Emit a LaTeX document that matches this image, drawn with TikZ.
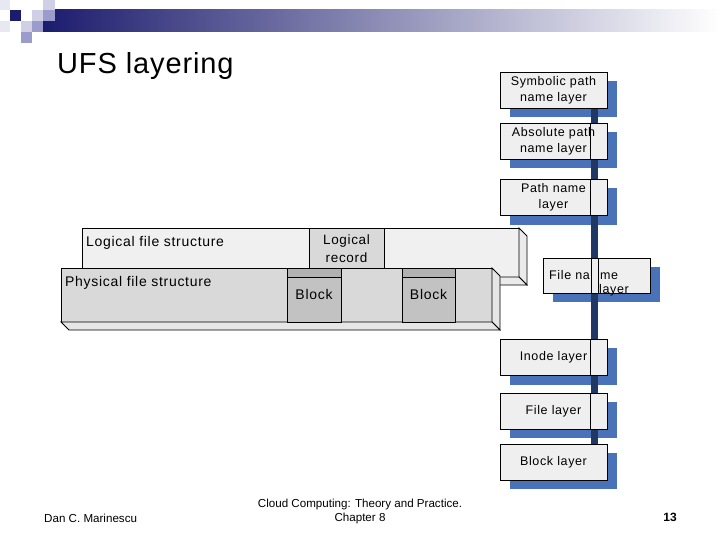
\documentclass[tikz,border=0pt]{standalone}
\usepackage{fontspec}
\setmainfont{Liberation Sans}
\usetikzlibrary{calc}
\pgfdeclarelayer{bglayer}
\pgfdeclarelayer{shadowlayer}
\pgfdeclarelayer{linelayer}
\pgfsetlayers{bglayer,shadowlayer,linelayer,main}
\definecolor{navy}{HTML}{1C1C6E}
\definecolor{barmid}{HTML}{A4A4C2}
\definecolor{lavF}{HTML}{E8E8F0}
\definecolor{lavL}{HTML}{CFCFE6}
\definecolor{lavM}{HTML}{9C9CCC}
\definecolor{shblue}{HTML}{4A72B8}
\definecolor{vline}{HTML}{1F3864}
\definecolor{boxfill}{HTML}{EFEFEF}
\definecolor{logfront}{HTML}{F0F0F0}
\definecolor{logside}{HTML}{EBEBEB}
\definecolor{recfill}{HTML}{D9D9D9}
\definecolor{physfront}{HTML}{D9D9D9}
\definecolor{physside}{HTML}{E6E6E6}
\definecolor{blockfill}{HTML}{C2C2C2}
\definecolor{blocktop}{HTML}{B2B2B2}
\newcommand\rfont{\fontsize{12.5}{16}\selectfont\addfontfeatures{LetterSpace=5}}
\newcommand\lfont{\fontsize{14}{16}\selectfont\addfontfeatures{LetterSpace=5}}
\newcommand\recfont{\fontsize{13.5}{18}\selectfont\addfontfeatures{LetterSpace=5}}
\newcommand\footfont{\fontsize{11.6}{14}\selectfont}
\tikzset{
  edge3d/.style={draw=black, line width=0.8pt, line join=miter},
  layerbox/.style={draw=black, fill=boxfill, line width=0.8pt, minimum width=107pt,
    minimum height=36pt, inner sep=0pt, align=center, font=\rfont},
  txt/.style={inner sep=0pt, anchor=base west},
  ctxt/.style={inner sep=0pt, anchor=base},
  thinrule/.style={draw=black, line width=0.8pt}
}
\begin{document}
\begin{tikzpicture}[x=1pt,y=-1pt]
\useasboundingbox (0,0) rectangle (720,540);
\begin{pgfonlayer}{bglayer}
\fill[white] (0,0) rectangle (720,540);
\end{pgfonlayer}

% title bar and logo
\shade[left color=navy, middle color=barmid, right color=white] (43,10) rectangle (720,32);
\fill[lavF] (0,0) rectangle (10,10);
\fill[lavF] (0,21) rectangle (10,32);
\fill[navy] (10,10) rectangle (21,21);
\fill[lavL] (32,10) rectangle (43,21);
\fill[lavL] (43,0) rectangle (55,10);
\fill[lavM] (43,10) rectangle (55,21);
\fill[lavL] (21,21) rectangle (32,32);
\fill[lavM] (32,21) rectangle (43,32);
\fill[lavM] (21,32) rectangle (32,43);

\node[txt, font=\fontsize{29}{34}\selectfont\addfontfeatures{LetterSpace=3}] (title) at (57,74) {UFS layering};

% left structure: logical file structure
\filldraw[edge3d, fill=logfront] (82,228) rectangle (519,277);
\filldraw[edge3d, fill=logside] (519,228) -- (527,236) -- (527,285) -- (519,277) -- cycle;
\filldraw[edge3d, fill=logside] (82,277) -- (519,277) -- (527,285) -- (90,285) -- cycle;
\filldraw[edge3d, fill=recfill] (309,228) rectangle (384,268);

% physical file structure
\filldraw[edge3d, fill=physfront] (61,268) rectangle (492,322);
\filldraw[edge3d, fill=physside] (492,268) -- (500,276) -- (500,330) -- (492,322) -- cycle;
\filldraw[edge3d, fill=physside] (61,322) -- (492,322) -- (500,330) -- (69,330) -- cycle;
\filldraw[edge3d, fill=blockfill] (287,268) rectangle (341,322);
\filldraw[edge3d, fill=blocktop] (287,268) rectangle (341,277);
\filldraw[edge3d, fill=blockfill] (402,268) rectangle (455,322);
\filldraw[edge3d, fill=blocktop] (402,268) rectangle (455,277);

\node[txt, font=\lfont] (lfs) at (86,246) {Logical file structure};
\node[txt, font=\lfont] (pfs) at (65,286) {Physical file structure};
\node[ctxt, font=\recfont] (lr1) at (346.5,244) {Logical};
\node[ctxt, font=\recfont] (lr2) at (346.5,262) {record};
\node[ctxt, font=\lfont] (blA) at (314,299) {Block};
\node[ctxt, font=\lfont] (blB) at (428.5,299) {Block};

% right layer stack
\node[layerbox] (sym) at (553.5,90) {Symbolic path\\name layer};
\node[layerbox] (abs) at (553.5,141) {Absolute path\\name layer};
\node[layerbox] (pth) at (553.5,197.5) {Path name\\layer};
\node[layerbox, minimum height=35pt] (fnm) at (596.5,275.5) {};
\node[layerbox] (ino) at (553.5,357.5) {Inode layer};
\node[layerbox] (fil) at (553.5,411) {File layer};
\node[layerbox] (blk) at (553.5,462) {Block layer};

\begin{pgfonlayer}{shadowlayer}
\foreach \n in {sym,abs,pth,fnm,ino,fil,blk}{
  \fill[shblue] ($(\n.north west)+(10,9)$) rectangle ($(\n.south east)+(10,9)$);
}
\end{pgfonlayer}

\coordinate (lxa) at (591,0);
\coordinate (lxb) at (598,0);
\coordinate (lx) at (590.5,0);
\coordinate (fxa) at (591.5,0);
\coordinate (fxb) at (598,0);
\begin{pgfonlayer}{linelayer}
\fill[vline] (lxa |- sym.south) rectangle (lxb |- blk.north);
\end{pgfonlayer}

\foreach \n in {abs,pth,ino,fil}{
  \draw[thinrule] (lx |- \n.north) -- (lx |- \n.south);
}
\draw[thinrule] (fxa |- fnm.north) -- (fxa |- fnm.south);
\draw[thinrule] (fxb |- fnm.north) -- (fxb |- fnm.south);
\node[txt, font=\rfont] (fnA) at (549,279) {File na};
\node[txt, font=\rfont] (fnB) at (600,279) {me};
\node[txt, font=\rfont] (fnC) at (599,293.5) {layer};

% footer
\node[txt, font=\footfont] (author) at (44,522) {Dan C. Marinescu};
\node[ctxt, font=\footfont] (book1) at (360,507) {Cloud Computing: Theory and Practice.};
\node[ctxt, font=\footfont] (book2) at (360,521) {Chapter 8};
\node[ctxt, font=\fontsize{12}{14}\selectfont\bfseries] (page) at (670,521) {13};
\end{tikzpicture}
\end{document}
